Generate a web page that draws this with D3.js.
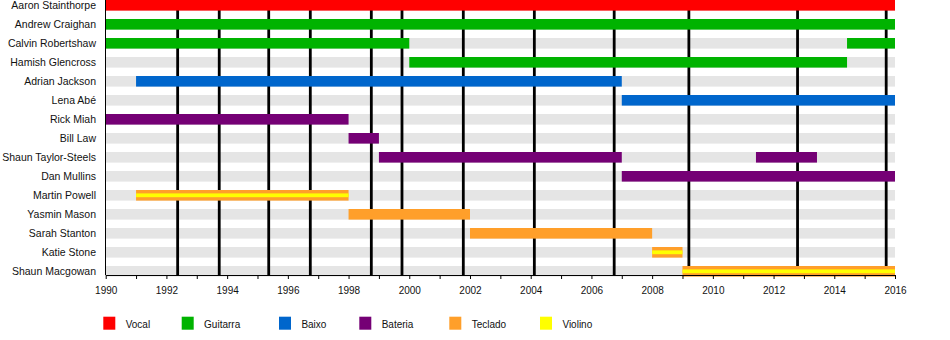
<!DOCTYPE html>
<html>
<head>
<meta charset="utf-8">
<script src="https://cdn.jsdelivr.net/npm/d3@7"></script>
<style>
  html, body { margin: 0; padding: 0; background: #fff; }
  text { font-family: "Liberation Sans", Arial, Helvetica, sans-serif; fill: #111; }
</style>
</head>
<body>
<svg id="chart" width="950" height="340"></svg>
<script>
// ---- data ----
const members = [
  "Aaron Stainthorpe", "Andrew Craighan", "Calvin Robertshaw", "Hamish Glencross",
  "Adrian Jackson", "Lena Abé", "Rick Miah", "Bill Law", "Shaun Taylor-Steels",
  "Dan Mullins", "Martin Powell", "Yasmin Mason", "Sarah Stanton", "Katie Stone",
  "Shaun Macgowan"
];
const roles = ["Vocal", "Guitarra", "Baixo", "Bateria", "Teclado", "Violino"];
const roleColors = ["#ff0000", "#00b300", "#0066cc", "#750075", "#ff9f2a", "#ffff00"];

// [member, role, start, end]
const tenures = [
  ["Aaron Stainthorpe", "Vocal", 1990, 2016],
  ["Andrew Craighan", "Guitarra", 1990, 2016],
  ["Calvin Robertshaw", "Guitarra", 1990, 2000],
  ["Calvin Robertshaw", "Guitarra", 2014.42, 2016],
  ["Hamish Glencross", "Guitarra", 2000, 2014.42],
  ["Adrian Jackson", "Baixo", 1991, 2007],
  ["Lena Abé", "Baixo", 2007, 2016],
  ["Rick Miah", "Bateria", 1990, 1998],
  ["Bill Law", "Bateria", 1998, 1999],
  ["Shaun Taylor-Steels", "Bateria", 1999, 2007],
  ["Shaun Taylor-Steels", "Bateria", 2011.42, 2013.43],
  ["Dan Mullins", "Bateria", 2007, 2016],
  ["Martin Powell", "Teclado", 1991, 1998],
  ["Yasmin Mason", "Teclado", 1998, 2002],
  ["Sarah Stanton", "Teclado", 2002, 2008],
  ["Katie Stone", "Teclado", 2008, 2009],
  ["Shaun Macgowan", "Teclado", 2009, 2016]
];
// secondary role drawn as a thin stripe: [member, role, start, end]
const secondary = [
  ["Martin Powell", "Violino", 1991, 1998],
  ["Katie Stone", "Violino", 2008, 2009],
  ["Shaun Macgowan", "Violino", 2009, 2016]
];
// album release dates (vertical lines)
const albums = [1992.37, 1993.74, 1995.37, 1996.74, 1998.75, 1999.76,
                2001.78, 2004.12, 2006.75, 2009.21, 2012.79, 2015.71];
const tickLabels = [1990, 1992, 1994, 1996, 1998, 2000, 2002, 2004, 2006, 2008, 2010, 2012, 2014, 2016];

// ---- layout ----
const svg = d3.select("#chart");
const x = d3.scaleLinear().domain([1990, 2016]).range([105.7, 895]);
const y = d3.scalePoint().domain(members).range([5.3, 271.3]);
const barH = 10.6;
const stripeH = 3.8;
const axisY = 275;
const color = d3.scaleOrdinal().domain(roles).range(roleColors);

// grey background bands
svg.append("g").selectAll("rect").data(members).join("rect")
  .attr("x", x(1990)).attr("width", x(2016) - x(1990))
  .attr("y", d => y(d) - barH / 2).attr("height", barH)
  .attr("fill", "#e5e5e5");

// album lines
svg.append("g").selectAll("line").data(albums).join("line")
  .attr("x1", d => x(d)).attr("x2", d => x(d))
  .attr("y1", 0).attr("y2", axisY)
  .attr("stroke", "#000").attr("stroke-width", 2.8);

// bars
svg.append("g").selectAll("rect").data(tenures).join("rect")
  .attr("x", d => x(d[2])).attr("width", d => x(d[3]) - x(d[2]))
  .attr("y", d => y(d[0]) - barH / 2).attr("height", barH)
  .attr("fill", d => color(d[1]));

svg.append("g").selectAll("rect").data(secondary).join("rect")
  .attr("x", d => x(d[2])).attr("width", d => x(d[3]) - x(d[2]))
  .attr("y", d => y(d[0]) - stripeH / 2).attr("height", stripeH)
  .attr("fill", d => color(d[1]));

// row labels
svg.append("g").selectAll("text").data(members).join("text")
  .attr("x", 96).attr("y", d => y(d))
  .attr("dy", "0.35em").attr("text-anchor", "end")
  .attr("font-size", 10.5).text(d => d);

// left axis line
svg.append("line").attr("x1", 105.5).attr("x2", 105.5).attr("y1", 0).attr("y2", axisY)
  .attr("stroke", "#000").attr("stroke-width", 1);

// bottom axis
const xAxis = d3.axisBottom(x)
  .tickValues(d3.range(1990, 2017, 1))
  .tickSize(4).tickSizeOuter(0)
  .tickFormat(d => tickLabels.includes(d) ? String(d) : "");
const gx = svg.append("g").attr("transform", `translate(0,${axisY})`).call(xAxis);
gx.select(".domain").attr("stroke", "#000");
gx.selectAll(".tick line").attr("stroke", "#000");
gx.selectAll(".tick text").attr("font-size", 10).attr("font-family", "Liberation Sans, Arial, sans-serif")
  .attr("fill", "#111").attr("y", 12);

// legend
const legendX = [103.3, 181.7, 279, 359.3, 449.3, 540];
const lg = svg.append("g").selectAll("g").data(roles).join("g")
  .attr("transform", (d, i) => `translate(${legendX[i]},316.7)`);
lg.append("rect").attr("width", 12).attr("height", 13).attr("fill", d => color(d));
lg.append("text").attr("x", 22.4).attr("y", 7.5).attr("dy", "0.35em")
  .attr("font-size", 10).text(d => d);
</script>
</body>
</html>
